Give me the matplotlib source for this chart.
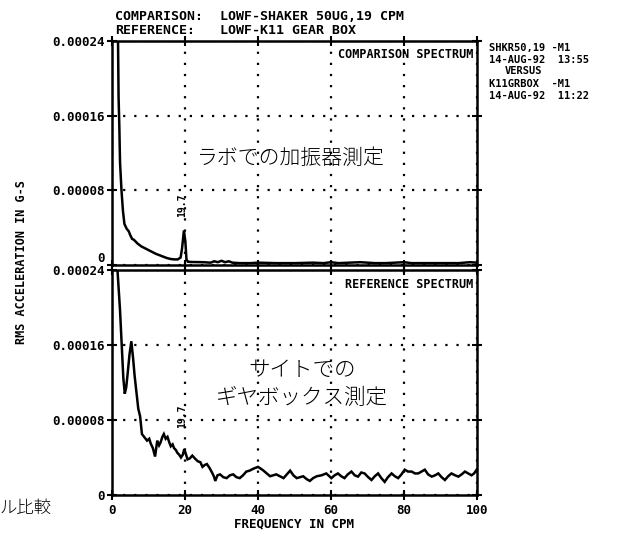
import matplotlib
matplotlib.use("Agg")
import matplotlib.pyplot as plt

# ---------------- data ----------------
freq_ticks = [0, 20, 40, 60, 80, 100]
freq_tick_labels = ["0", "20", "40", "60", "80", "100"]
amp_ticks = [0, 0.00008, 0.00016, 0.00024]
amp_tick_labels = ["0", "0.00008", "0.00016", "0.00024"]

comp_freq = [1.2, 1.6, 1.8, 2.0, 2.2, 2.6, 3.0, 3.4, 4.0, 4.6, 5.0, 5.5, 6.0, 6.5, 7.0,
             8.0, 9.0, 10, 11, 12, 13, 14, 15, 16, 17, 18, 18.8, 19.2, 19.7, 20.1,
             20.4, 20.8, 22, 25, 27, 28, 29, 30, 31, 32, 33, 35, 38, 40, 45, 50, 55,
             58, 60, 62, 65, 68, 70, 72, 75, 80, 82, 85, 90, 95, 98, 100]
comp_amp = [30e-5, 26e-5, 18e-5, 15e-5, 11e-5, 8.0e-5, 5.8e-5, 4.4e-5, 3.9e-5, 3.6e-5,
            3.2e-5, 2.8e-5, 2.7e-5, 2.5e-5, 2.3e-5, 2.0e-5, 1.8e-5, 1.6e-5, 1.4e-5,
            1.2e-5, 1.05e-5, 0.9e-5, 0.75e-5, 0.65e-5, 0.6e-5, 0.6e-5, 0.8e-5, 1.8e-5,
            3.7e-5, 2.5e-5, 0.6e-5, 0.35e-5, 0.32e-5, 0.3e-5, 0.25e-5, 0.4e-5, 0.3e-5,
            0.45e-5, 0.3e-5, 0.4e-5, 0.25e-5, 0.2e-5, 0.2e-5, 0.25e-5, 0.2e-5, 0.2e-5,
            0.25e-5, 0.2e-5, 0.3e-5, 0.2e-5, 0.25e-5, 0.3e-5, 0.25e-5, 0.2e-5, 0.2e-5,
            0.3e-5, 0.2e-5, 0.2e-5, 0.2e-5, 0.2e-5, 0.3e-5, 0.25e-5]

ref_freq = [0.8, 1.5, 2.2, 2.7, 3.1, 3.5, 3.9, 4.3, 4.8, 5.3, 5.8, 6.2, 6.7, 7.2, 7.7,
            8.2, 8.8, 9.6, 10.2, 10.6, 11.2, 11.8, 12.4, 12.9, 13.3, 13.8, 14.2, 14.7,
            15.2, 15.7, 16.1, 16.6, 17.0, 17.5, 17.9, 18.4, 18.9, 19.4, 19.8, 20.2,
            20.7, 21.3, 22.0, 22.7, 23.5, 24.2, 24.8, 25.4, 26.0, 26.7, 27.4, 27.9,
            28.3, 28.9, 29.6, 30.5, 31.4, 32.3, 33.2, 34.1, 35.0, 35.9, 36.8, 37.7,
            38.7, 40.0, 40.8, 41.5, 42.4, 43.3, 44.2, 45.0, 46.0, 47.0, 47.9, 48.8,
            49.7, 50.6, 51.5, 52.4, 53.3, 54.2, 55.1, 56.1, 57.4, 58.7, 60.1, 61.0,
            61.9, 62.8, 63.7, 64.6, 65.6, 66.5, 67.4, 68.3, 69.2, 70.2, 71.1, 72.0,
            72.9, 73.8, 74.7, 75.6, 76.6, 77.5, 78.4, 79.3, 80.2, 81.1, 82.1, 83.0,
            83.9, 84.8, 85.7, 86.6, 87.6, 88.5, 89.4, 90.3, 91.2, 92.1, 93.0, 94.0,
            94.9, 95.8, 96.7, 97.6, 98.5, 99.2, 99.9]
ref_amp = [26e-5, 24e-5, 19.7e-5, 15.8e-5, 12.5e-5, 10.8e-5, 11.5e-5, 13e-5, 15e-5,
           16.4e-5, 14.5e-5, 12.7e-5, 11e-5, 9.2e-5, 8.4e-5, 6.5e-5, 6.2e-5, 5.8e-5,
           6.0e-5, 5.5e-5, 5.0e-5, 4.1e-5, 5.8e-5, 5.3e-5, 5.6e-5, 6.2e-5, 6.5e-5,
           6.0e-5, 6.2e-5, 5.6e-5, 5.2e-5, 5.4e-5, 5.0e-5, 4.8e-5, 4.5e-5, 4.3e-5,
           4.0e-5, 4.3e-5, 4.9e-5, 4.4e-5, 3.8e-5, 3.9e-5, 4.2e-5, 3.9e-5, 3.6e-5,
           3.5e-5, 3.0e-5, 3.2e-5, 3.3e-5, 2.9e-5, 2.4e-5, 2.0e-5, 1.5e-5, 2.1e-5,
           2.2e-5, 1.9e-5, 1.8e-5, 2.1e-5, 2.2e-5, 1.9e-5, 1.8e-5, 2.1e-5, 2.5e-5,
           2.6e-5, 2.8e-5, 3.0e-5, 2.8e-5, 2.6e-5, 2.3e-5, 2.0e-5, 2.1e-5, 2.2e-5,
           2.0e-5, 1.8e-5, 2.2e-5, 2.6e-5, 2.1e-5, 1.8e-5, 1.9e-5, 2.0e-5, 1.7e-5,
           1.5e-5, 1.8e-5, 2.0e-5, 2.1e-5, 2.3e-5, 1.8e-5, 2.1e-5, 2.3e-5, 2.0e-5,
           1.8e-5, 2.2e-5, 2.5e-5, 2.1e-5, 1.96e-5, 2.4e-5, 2.3e-5, 1.9e-5, 1.6e-5,
           2.0e-5, 2.3e-5, 1.8e-5, 1.4e-5, 1.9e-5, 2.3e-5, 2.0e-5, 1.8e-5, 2.2e-5,
           2.7e-5, 2.5e-5, 2.5e-5, 2.3e-5, 2.3e-5, 2.5e-5, 2.7e-5, 2.2e-5, 1.96e-5,
           2.1e-5, 2.3e-5, 1.9e-5, 1.6e-5, 2.0e-5, 2.3e-5, 2.1e-5, 1.96e-5, 2.2e-5,
           2.5e-5, 2.3e-5, 2.1e-5, 2.3e-5, 2.7e-5]

peak_freq = 19.7
peak_label = "19.7"

# ---------------- figure ----------------
W, H = 632, 533
fig = plt.figure(figsize=(W / 100, H / 100), dpi=100)
fig.patch.set_facecolor("white")

MONO = "DejaVu Sans Mono"
JP = ["Noto Sans CJK JP", "DejaVu Sans"]

def fx(px):
    return px / W

def fy(py):
    return 1 - py / H

left, right = 112, 477
ax_top = fig.add_axes([fx(left), fy(265), fx(right) - fx(left), (265 - 41) / H])
ax_bot = fig.add_axes([fx(left), fy(495), fx(right) - fx(left), (495 - 270) / H])

for ax, fr, am in ((ax_top, comp_freq, comp_amp), (ax_bot, ref_freq, ref_amp)):
    ax.plot(fr, am, color="black", lw=1.8, solid_joinstyle="miter")
    ax.set_xlim(0, 100)
    ax.set_ylim(0, 0.00024)
    ax.set_xticks(freq_ticks)
    ax.set_yticks(amp_ticks)
    ax.set_yticklabels(amp_tick_labels, fontfamily=MONO, fontweight="bold", fontsize=9)
    ax.grid(True, color="black", linestyle=(0, (1, 4)), linewidth=1.6)
    for s in ax.spines.values():
        s.set_linewidth(1.8)
    ax.tick_params(axis="both", direction="inout", length=7, width=1.5,
                   right=True, top=True, pad=2)

ax_top.set_xticklabels([])
ax_bot.set_xticklabels(freq_tick_labels, fontfamily=MONO, fontweight="bold", fontsize=9)
ax_bot.tick_params(axis="x", pad=3)
ax_bot.set_xlabel("FREQUENCY IN CPM", fontfamily=MONO, fontweight="bold",
                  fontsize=9, labelpad=0)
# raise the "0" label of the top panel
ax_top.get_yticklabels()[0].set_verticalalignment("bottom")

ax_top.text(99, 0.000232, "COMPARISON SPECTRUM", ha="right", va="top",
            fontfamily=MONO, fontweight="bold", fontsize=8.5)
ax_bot.text(99, 0.000232, "REFERENCE SPECTRUM", ha="right", va="top",
            fontfamily=MONO, fontweight="bold", fontsize=8.5)

ax_top.text(peak_freq - 0.5, 0.000064, peak_label, rotation=90, ha="center",
            va="center", fontfamily=MONO, fontweight="bold", fontsize=7)
ax_bot.text(peak_freq - 0.5, 0.000084, peak_label, rotation=90, ha="center",
            va="center", fontfamily=MONO, fontweight="bold", fontsize=7)

# Japanese annotations
ax_top.text(49, 0.000115, "ラボでの加振器測定", ha="center", va="center",
            fontfamily=JP, fontweight="light", fontsize=15)
ax_bot.text(52, 0.000133, "サイトでの", ha="center", va="center",
            fontfamily=JP, fontweight="light", fontsize=15.5)
ax_bot.text(52, 0.000103, "ギヤボックス測定", ha="center", va="center",
            fontfamily=JP, fontweight="light", fontsize=15.5)

# header
hdr = dict(fontfamily=MONO, fontweight="bold", fontsize=9.5, va="center", ha="left")
fig.text(fx(115), fy(16), "COMPARISON:", **hdr)
fig.text(fx(220), fy(16), "LOWF-SHAKER 50UG,19 CPM", **hdr)
fig.text(fx(115), fy(30), "REFERENCE:", **hdr)
fig.text(fx(220), fy(30), "LOWF-K11 GEAR BOX", **hdr)

# right side info
side = dict(fontfamily=MONO, fontweight="bold", fontsize=7.5, va="center", ha="left")
fig.text(fx(489), fy(48), "SHKR50,19 -M1", **side)
fig.text(fx(489), fy(60), "14-AUG-92  13:55", **side)
fig.text(fx(505), fy(71), "VERSUS", **side)
fig.text(fx(489), fy(84), "K11GRBOX  -M1", **side)
fig.text(fx(489), fy(96), "14-AUG-92  11:22", **side)

# y label
fig.text(fx(22), fy(262), "RMS ACCELERATION IN G-S", rotation=90, ha="center",
         va="center", fontfamily=MONO, fontweight="bold", fontsize=8.5)

# truncated caption at lower left
fig.text(fx(0), fy(508), "ル比較", ha="left", va="center", fontfamily=JP,
         fontweight="light", fontsize=12.5)

fig.savefig("out.png", dpi=100, facecolor="white")
